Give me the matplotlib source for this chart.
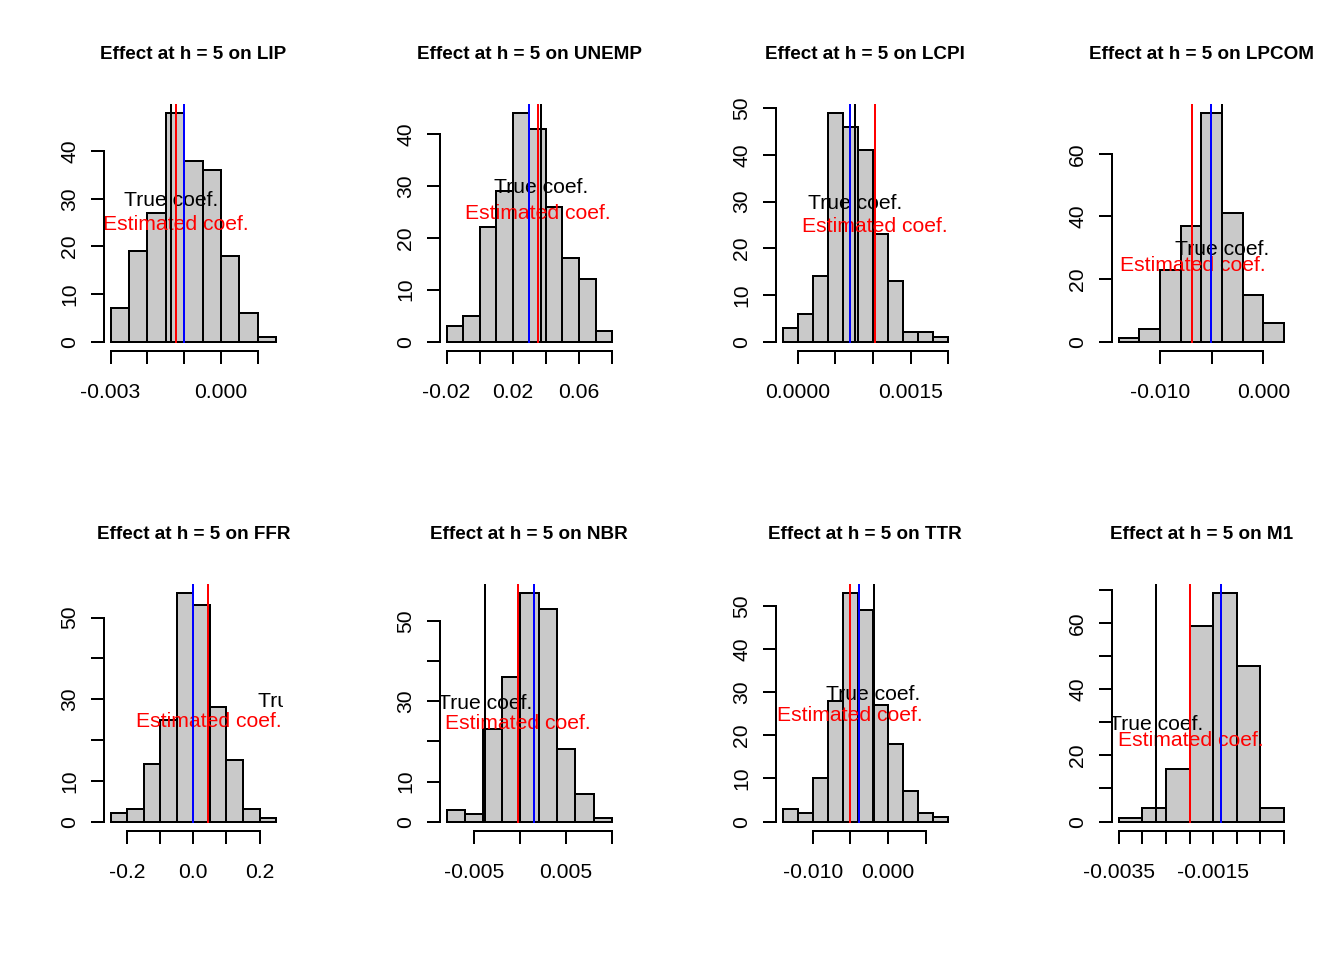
import matplotlib
matplotlib.use("Agg")
import matplotlib.pyplot as plt

plt.rcParams['font.family'] = ['Liberation Sans', 'DejaVu Sans']

variables = ["LIP", "UNEMP", "LCPI", "LPCOM", "FFR", "NBR", "TTR", "M1"]

breaks_LIP = [-0.003, -0.0025, -0.002, -0.0015, -0.001, -0.0005, 0.0, 0.0005, 0.001, 0.0015]
counts_LIP = [7, 19, 27, 48, 38, 36, 18, 6, 1]
breaks_UNEMP = [-0.02, -0.01, 0.0, 0.01, 0.02, 0.03, 0.04, 0.05, 0.06, 0.07, 0.08]
counts_UNEMP = [3, 5, 22, 29, 44, 41, 26, 16, 12, 2]
breaks_LCPI = [-0.0002, 0.0, 0.0002, 0.0004, 0.0006, 0.0008, 0.001, 0.0012, 0.0014, 0.0016, 0.0018, 0.002]
counts_LCPI = [3, 6, 14, 49, 46, 41, 23, 13, 2, 2, 1]
breaks_LPCOM = [-0.014, -0.012, -0.010, -0.008, -0.006, -0.004, -0.002, 0.0, 0.002]
counts_LPCOM = [1, 4, 23, 37, 73, 41, 15, 6]
breaks_FFR = [-0.25, -0.2, -0.15, -0.1, -0.05, 0.0, 0.05, 0.1, 0.15, 0.2, 0.25]
counts_FFR = [2, 3, 14, 25, 56, 53, 28, 15, 3, 1]
breaks_NBR = [-0.008, -0.006, -0.004, -0.002, 0.0, 0.002, 0.004, 0.006, 0.008, 0.010]
counts_NBR = [3, 2, 23, 36, 57, 53, 18, 7, 1]
breaks_TTR = [-0.014, -0.012, -0.010, -0.008, -0.006, -0.004, -0.002, 0.0, 0.002, 0.004, 0.006, 0.008]
counts_TTR = [3, 2, 10, 28, 53, 49, 27, 18, 7, 2, 1]
breaks_M1 = [-0.0035, -0.003, -0.0025, -0.002, -0.0015, -0.001, -0.0005, 0.0]
counts_M1 = [1, 4, 16, 59, 69, 47, 4]

breaks_all = [breaks_LIP, breaks_UNEMP, breaks_LCPI, breaks_LPCOM,
              breaks_FFR, breaks_NBR, breaks_TTR, breaks_M1]
counts_all = [counts_LIP, counts_UNEMP, counts_LCPI, counts_LPCOM,
              counts_FFR, counts_NBR, counts_TTR, counts_M1]

true_coef = [-0.00136, 0.0371, 0.000764, -0.0040, 0.3385, -0.00377, -0.0019, -0.00271]
est_coef = [-0.00123, 0.0352, 0.001024, -0.00687, 0.0453, -0.00025, -0.0050, -0.00198]
mean_coef = [-0.00101, 0.0296, 0.000698, -0.00506, 0.0, 0.0015, -0.00385, -0.001328]

xticks_all = [
    [-0.003, -0.002, -0.001, 0.0, 0.001],
    [-0.02, 0.0, 0.02, 0.04, 0.06, 0.08],
    [0.0, 0.0005, 0.001, 0.0015, 0.002],
    [-0.010, -0.005, 0.0],
    [-0.2, -0.1, 0.0, 0.1, 0.2],
    [-0.005, 0.0, 0.005, 0.010],
    [-0.010, -0.005, 0.0, 0.005],
    [-0.0035, -0.003, -0.0025, -0.002, -0.0015, -0.001, -0.0005, 0.0],
]
xlabels_all = [
    ["-0.003", "", "", "0.000", ""],
    ["-0.02", "", "0.02", "", "0.06", ""],
    ["0.0000", "", "", "0.0015", ""],
    ["-0.010", "", "0.000"],
    ["-0.2", "", "0.0", "", "0.2"],
    ["-0.005", "", "0.005", ""],
    ["-0.010", "", "0.000", ""],
    ["-0.0035", "", "", "", "-0.0015", "", "", ""],
]
yticks_all = [
    [0, 10, 20, 30, 40],
    [0, 10, 20, 30, 40],
    [0, 10, 20, 30, 40, 50],
    [0, 20, 40, 60],
    [0, 10, 20, 30, 40, 50],
    [0, 10, 20, 30, 40, 50],
    [0, 10, 20, 30, 40, 50],
    [0, 10, 20, 30, 40, 50, 60, 70],
]
ylabels_all = [
    ["0", "10", "20", "30", "40"],
    ["0", "10", "20", "30", "40"],
    ["0", "10", "20", "30", "40", "50"],
    ["0", "20", "40", "60"],
    ["0", "10", "", "30", "", "50"],
    ["0", "10", "", "30", "", "50"],
    ["0", "10", "20", "30", "40", "50"],
    ["0", "", "20", "", "40", "", "60", ""],
]

W, H = 1344, 960
fig = plt.figure(figsize=(7, 5), dpi=192)
line = 0.2 * 0.66 * 192  # R margin line height in px
panel_w, panel_h = W / 4, H / 2
mar_b, mar_l, mar_t, mar_r = 5.1, 4.1, 4.1, 2.1

fs = 7.92
lw = 0.75
for i, var in enumerate(variables):
    r, c = divmod(i, 4)
    left_px = c * panel_w + mar_l * line
    top_px = r * panel_h + mar_t * line
    w_px = panel_w - (mar_l + mar_r) * line
    h_px = panel_h - (mar_b + mar_t) * line
    ax = fig.add_axes([left_px / W, 1 - (top_px + h_px) / H, w_px / W, h_px / H])

    br = breaks_all[i]
    cnt = counts_all[i]
    widths = [br[k + 1] - br[k] for k in range(len(cnt))]
    ax.bar(br[:-1], cnt, width=widths, align='edge', color='#C9C9C9',
           edgecolor='black', linewidth=lw, zorder=1)

    rng = br[-1] - br[0]
    ax.set_xlim(br[0] - 0.04 * rng, br[-1] + 0.04 * rng)
    ymax = max(cnt)
    ax.set_ylim(-0.04 * ymax, 1.04 * ymax)
    ytop = 1.04 * ymax

    ax.text(true_coef[i], 30, "True coef.", ha='center', va='center_baseline',
            fontsize=fs, color='black', clip_on=True, zorder=2)
    ax.text(est_coef[i], 25, "Estimated coef.", ha='center', va='center_baseline',
            fontsize=fs, color='red', clip_on=True, zorder=2)
    ax.plot([true_coef[i]] * 2, [0, ytop], color='black', lw=lw, zorder=3)
    ax.plot([est_coef[i]] * 2, [0, ytop], color='red', lw=lw, zorder=3)
    ax.plot([mean_coef[i]] * 2, [0, ytop], color='blue', lw=lw, zorder=3)

    for s in ['top', 'right']:
        ax.spines[s].set_visible(False)
    for s in ['left', 'bottom']:
        ax.spines[s].set_linewidth(lw)
    xt = xticks_all[i]
    yt = yticks_all[i]
    ax.spines['bottom'].set_bounds(xt[0], xt[-1])
    ax.spines['left'].set_bounds(yt[0], yt[-1])
    ax.set_xticks(xt)
    ax.set_xticklabels(xlabels_all[i])
    ax.set_yticks(yt)
    ax.set_yticklabels(ylabels_all[i])
    ax.tick_params(axis='both', length=4.75, width=lw, labelsize=fs, direction='out')
    ax.tick_params(axis='x', pad=7.2)
    ax.tick_params(axis='y', pad=4.5)
    for lab in ax.get_yticklabels():
        lab.set_rotation(90)
        lab.set_va('center')
        lab.set_ha('right')
    ax.set_facecolor('none')
    ax.set_title(f"Effect at h = 5 on {var}", fontsize=7.1, fontweight='bold', pad=16.8)

fig.savefig("out.png", dpi=192)
